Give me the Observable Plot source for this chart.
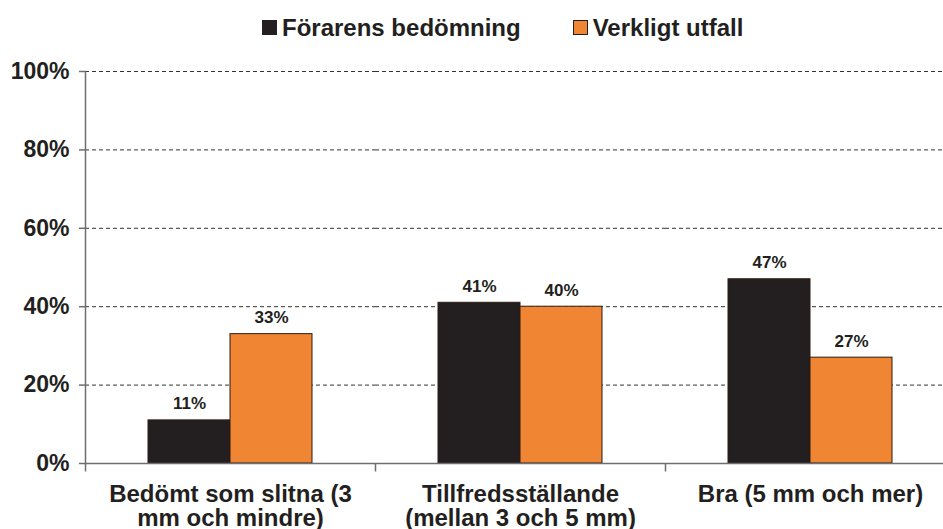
<!DOCTYPE html>
<html>
<head>
<meta charset="utf-8">
<script src="https://cdn.jsdelivr.net/npm/d3@7"></script>
<script src="https://cdn.jsdelivr.net/npm/@observablehq/plot@0.6"></script>
<style>
  html, body { margin: 0; padding: 0; background: #fff; }
  body { width: 943px; height: 529px; overflow: hidden; font-family: "Liberation Sans", Arial, Helvetica, sans-serif; color: #231f20; }
  #legend { height: 48px; display: flex; justify-content: flex-start; align-items: flex-start; padding-left: 262px; box-sizing: border-box; font-weight: bold; font-size: 24px; }
  .item { display: flex; align-items: center; margin-top: 16px; line-height: 23px; }
  .item + .item { margin-left: 52px; }
  .sw { width: 13px; height: 13px; border: 1px solid #231f20; margin-right: 5px; }
</style>
</head>
<body>
<div id="legend"></div>
<div id="chart"></div>
<script>
// ---- data ----
const categories = [
  "Bedömt som slitna (3 mm och mindre)",
  "Tillfredsställande (mellan 3 och 5 mm)",
  "Bra (5 mm och mer)"
];
const tickLabels = [
  "Bedömt som slitna (3\nmm och mindre)",
  "Tillfredsställande\n(mellan 3 och 5 mm)",
  "Bra (5 mm och mer)"
];
const series = ["Förarens bedömning", "Verkligt utfall"];
const driverValues = [11, 41, 47];
const actualValues = [33, 40, 27];
const yTicks = [0, 20, 40, 60, 80, 100];
const colors = ["#231f20", "#f08533"];

const data = [];
categories.forEach((c, i) => {
  data.push({category: c, series: series[0], value: driverValues[i]});
  data.push({category: c, series: series[1], value: actualValues[i]});
});

// ---- legend ----
const legend = document.getElementById("legend");
series.forEach((s, i) => {
  const item = document.createElement("div");
  item.className = "item";
  const sw = document.createElement("span");
  sw.className = "sw";
  sw.style.background = colors[i];
  const t = document.createElement("span");
  t.textContent = s;
  item.appendChild(sw);
  item.appendChild(t);
  legend.appendChild(item);
});

// small downward tick symbol at facet boundaries
const tickSymbol = {draw(context) { context.moveTo(0, 0); context.lineTo(0, 8); }};

const chart = Plot.plot({
  width: 943,
  height: 481,
  marginLeft: 85,
  marginRight: -12,
  marginTop: 23,
  marginBottom: 66,
  style: {fontFamily: "'Liberation Sans', Arial, Helvetica, sans-serif", fontWeight: "bold", fontSize: "23px", color: "#231f20", background: "#fff"},
  fx: {domain: categories, padding: 0, axis: null, label: null},
  x: {domain: series, paddingInner: 0, paddingOuter: 0.747, axis: null},
  y: {domain: [0, 100], label: null},
  color: {domain: series, range: colors},
  marks: [
    Plot.ruleY(yTicks.filter(v => v > 0), {stroke: "#333", strokeDasharray: "4,3", strokeWidth: 1}),
    Plot.barY(data, {fx: "category", x: "series", y: "value", fill: "series", stroke: "#2b1d14", strokeWidth: 1}),
    Plot.ruleY([0], {stroke: "#6d6e71", strokeWidth: 1.5}),
    Plot.frame({anchor: "left", facetAnchor: "left", stroke: "#6d6e71", strokeWidth: 1.5}),
    Plot.dot(categories, {fx: d => d, frameAnchor: "bottom-left", symbol: tickSymbol, stroke: "#6d6e71", strokeWidth: 1.5}),
    Plot.text(data, {fx: "category", x: "series", y: "value", text: d => d.value + "%", dy: -11, lineAnchor: "bottom", fontSize: 17, fontWeight: "bold", fill: "#231f20"}),
    Plot.text(categories, {fx: d => d, text: (d, i) => tickLabels[i], frameAnchor: "bottom", lineAnchor: "top", dy: 21, fontSize: 24, fontWeight: "bold", lineHeight: 1, fill: "#231f20"}),
    Plot.axisY({ticks: yTicks, tickFormat: d => d + "%", tickSize: 6, tickPadding: 10, stroke: "#6d6e71", strokeWidth: 1.5, fill: "#231f20", label: null, fontSize: 23})
  ]
});
document.getElementById("chart").appendChild(chart);
</script>
</body>
</html>
